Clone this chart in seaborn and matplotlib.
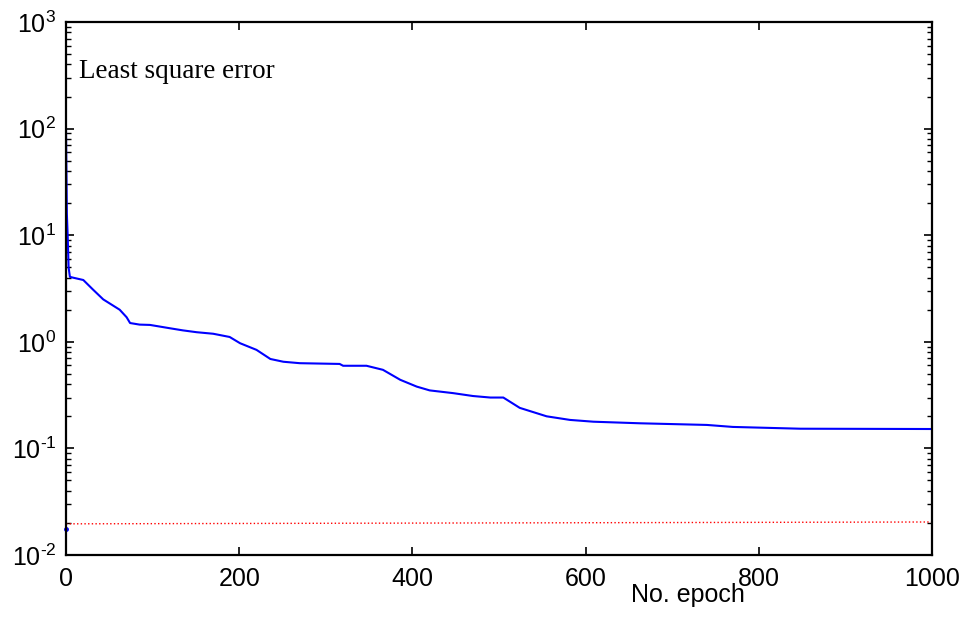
import numpy as np
import pandas as pd
import matplotlib
matplotlib.use("Agg")
import matplotlib.pyplot as plt
import seaborn as sns
from matplotlib.ticker import LogLocator, FixedLocator, FuncFormatter

# -----------------------------
# Data
# -----------------------------
epochs = [0, 1, 2, 3, 4.5, 8, 20, 31, 43, 62, 70, 74, 85, 97, 120, 135, 151,
          170, 189, 201, 220, 236, 251, 270, 316, 320, 347, 366, 386, 405,
          420, 447, 470, 490, 505, 524, 555, 582, 609, 663, 740, 770, 848, 1000]
lse = [100, 16, 9.6, 5, 4.07, 4.0, 3.8, 3.1, 2.5, 2.0, 1.7, 1.5, 1.45, 1.44,
       1.34, 1.28, 1.23, 1.19, 1.11, 0.97, 0.84, 0.69, 0.65, 0.63, 0.62, 0.596,
       0.596, 0.546, 0.44, 0.38, 0.35, 0.33, 0.31, 0.30, 0.30, 0.24, 0.20,
       0.185, 0.178, 0.172, 0.166, 0.159, 0.153, 0.152]

goal_epochs = [0, 1000]
goal_values = [0.0196, 0.0204]

start_point_epoch = [0]
start_point_value = [0.0177]

xticks = [0, 200, 400, 600, 800, 1000]

df = pd.DataFrame({"epoch": epochs, "lse": lse})
goal = pd.DataFrame({"epoch": goal_epochs, "value": goal_values})

# -----------------------------
# Style
# -----------------------------
sns.set_style("white")
plt.rcParams["font.family"] = ["Liberation Sans", "DejaVu Sans"]
plt.rcParams["mathtext.fontset"] = "custom"
plt.rcParams["mathtext.rm"] = "Liberation Sans"
plt.rcParams["mathtext.it"] = "Liberation Sans"
plt.rcParams["axes.unicode_minus"] = False
plt.rcParams["text.color"] = "black"

fig = plt.figure(figsize=(9.69, 6.17), dpi=100)
ax = fig.add_axes([0.0681, 0.1005, 0.8937, 0.8638])

sns.lineplot(data=goal, x="epoch", y="value", ax=ax, color="red",
             linestyle=":", linewidth=1.0)
sns.lineplot(data=df, x="epoch", y="lse", ax=ax, color="#0000ff",
             linewidth=1.5)
ax.plot(start_point_epoch, start_point_value, "o", color="#0000ff",
        markersize=2.5, clip_on=False)

ax.set_yscale("log")
ax.set_xlim(0, 1000)
ax.set_ylim(1e-2, 1e3)
ax.xaxis.set_major_locator(FixedLocator(xticks))
ax.set_xticklabels([str(t) for t in xticks])
ax.yaxis.set_major_locator(LogLocator(base=10, numticks=10))
ax.yaxis.set_minor_locator(LogLocator(base=10, subs=np.arange(2, 10), numticks=10))
ax.yaxis.set_major_formatter(
    FuncFormatter(lambda v, p: r"$\mathregular{10^{\text{%d}}}$" % int(round(np.log10(v)))))

for s in ax.spines.values():
    s.set_visible(True)
    s.set_color("black")
    s.set_linewidth(1.6)

ax.tick_params(which="both", direction="in", top=True, right=True,
               bottom=True, left=True, colors="black", labelsize=18)
ax.tick_params(which="major", length=6, width=1.2, pad=9)
ax.tick_params(which="minor", length=3.5, width=1.0)
ax.tick_params(axis="y", which="major", pad=7)

ax.set_xlabel("")
ax.set_ylabel("")

ax.text(0.015, 0.895, "Least square error", transform=ax.transAxes,
        family=["Liberation Serif", "DejaVu Serif"], fontsize=19.5,
        color="black", ha="left", va="baseline")

fig.text(688 / 969, 1 - 595 / 617, "No. epoch", fontsize=18, color="black",
         ha="center", va="center")

fig.savefig("out.png", dpi=100)
